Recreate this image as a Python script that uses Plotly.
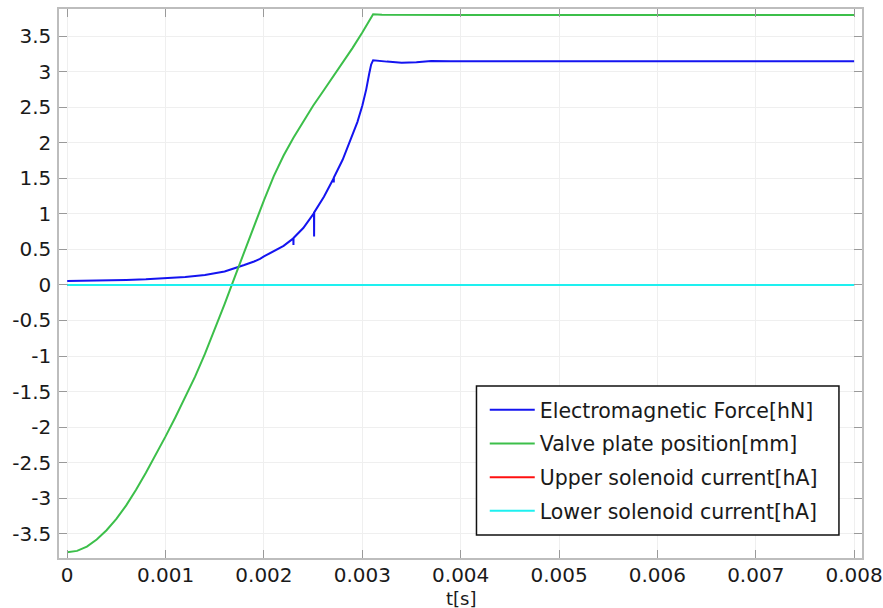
import plotly.graph_objects as go

# time in milliseconds (converted to seconds below)
t_force_ms = [0, 0.2, 0.4, 0.6, 0.8, 1.0, 1.2, 1.4, 1.5, 1.6, 1.7, 1.76, 1.8, 1.9, 1.96, 2.0,
              2.1, 2.2, 2.299, 2.300, 2.301, 2.4, 2.509, 2.510, 2.511, 2.61, 2.709, 2.710,
              2.711, 2.80, 2.85, 2.90, 2.95, 3.00, 3.04, 3.07, 3.09, 3.11, 3.14, 3.25, 3.4,
              3.55, 3.7, 3.9, 4.5, 5.0, 6.0, 7.0, 8.0]
force = [0.055, 0.058, 0.063, 0.070, 0.080, 0.094, 0.113, 0.14, 0.16, 0.19, 0.235, 0.26, 0.28,
         0.33, 0.365, 0.40, 0.47, 0.55, 0.655, 0.56, 0.66, 0.80, 1.01, 0.68, 1.02, 1.24, 1.50,
         1.44, 1.51, 1.76, 1.93, 2.10, 2.29, 2.52, 2.75, 2.97, 3.10, 3.16, 3.155, 3.14, 3.125,
         3.13, 3.15, 3.145, 3.145, 3.145, 3.145, 3.145, 3.145]

t_pos_ms = [0, 0.1, 0.2, 0.3, 0.4, 0.5, 0.6, 0.7, 0.8, 0.9, 1.0, 1.1, 1.2, 1.3, 1.4, 1.5, 1.6,
            1.7, 1.8, 1.9, 2.0, 2.1, 2.2, 2.3, 2.4, 2.5, 2.6, 2.7, 2.8, 2.9, 3.0, 3.05, 3.11,
            3.2, 3.5, 4.0, 5.0, 6.0, 7.0, 8.0]
position = [-3.76, -3.74, -3.68, -3.58, -3.45, -3.29, -3.10, -2.88, -2.64, -2.39, -2.13, -1.86,
            -1.58, -1.29, -0.97, -0.63, -0.27, 0.10, 0.47, 0.84, 1.19, 1.53, 1.82, 2.07, 2.30,
            2.52, 2.72, 2.92, 3.12, 3.33, 3.55, 3.67, 3.805, 3.80, 3.795, 3.795, 3.795, 3.795,
            3.795, 3.795]

t_cur_ms = [0, 8.0]
upper_current = [0, 0]
lower_current = [0, 0]

x_tick_vals = [0, 0.001, 0.002, 0.003, 0.004, 0.005, 0.006, 0.007, 0.008]
x_tick_text = ["0", "0.001", "0.002", "0.003", "0.004", "0.005", "0.006", "0.007", "0.008"]
y_tick_vals = [-3.5, -3, -2.5, -2, -1.5, -1, -0.5, 0, 0.5, 1, 1.5, 2, 2.5, 3, 3.5]
y_tick_text = ["-3.5", "-3", "-2.5", "-2", "-1.5", "-1", "-0.5", "0", "0.5", "1", "1.5", "2",
               "2.5", "3", "3.5"]
x_title = "t[s]"

to_s = lambda arr: [v / 1000.0 for v in arr]

fig = go.Figure()
fig.add_trace(go.Scatter(x=to_s(t_force_ms), y=force, mode="lines",
                         name="Electromagnetic Force[hN]", legendgroup="a",
                         line=dict(color="#1414f0", width=2)))
fig.add_trace(go.Scatter(x=to_s(t_pos_ms), y=position, mode="lines",
                         name="Valve plate position[mm]", legendgroup="b",
                         line=dict(color="#3cbf4a", width=2)))
fig.add_trace(go.Scatter(x=to_s(t_cur_ms), y=upper_current, mode="lines",
                         name="Upper solenoid current[hA]", legendgroup="c",
                         line=dict(color="#ff1010", width=2)))
fig.add_trace(go.Scatter(x=to_s(t_cur_ms), y=lower_current, mode="lines",
                         name="Lower solenoid current[hA]", legendgroup="d",
                         line=dict(color="#1ef0f0", width=2)))

axis_common = dict(
    showline=True, mirror="ticks", linecolor="#bdbdbd", linewidth=1.5,
    ticks="inside", ticklen=8, tickcolor="#9a9a9a", tickwidth=1,
    showgrid=True, gridcolor="#efefef", gridwidth=1, zeroline=False,
    automargin=False,
    tickfont=dict(family="DejaVu Sans", size=20, color="#1a1a1a"),
)

fig.update_layout(
    width=883, height=608,
    margin=dict(l=59, r=21, t=9, b=50),
    paper_bgcolor="white", plot_bgcolor="white",
    font=dict(family="DejaVu Sans", size=20, color="#1a1a1a"),
    xaxis=dict(range=[-0.0000834, 0.00808], tickvals=x_tick_vals, ticktext=x_tick_text,
               ticklabelstandoff=-2, **axis_common),
    yaxis=dict(range=[-3.84, 3.88], tickvals=y_tick_vals, ticktext=y_tick_text,
               ticklabelstandoff=2, **axis_common),
    legend=dict(x=0.5302, y=0.3060, xanchor="left", yanchor="top",
                borderwidth=0, bgcolor="rgba(255,255,255,0)",
                font=dict(family="DejaVu Sans", size=20.5, color="#1a1a1a"),
                tracegroupgap=4, itemwidth=45, traceorder="grouped"),
    shapes=[dict(type="rect", xref="paper", yref="paper",
                 x0=0.5199, x1=0.9713, y0=0.0419, y1=0.3133,
                 line=dict(color="#111111", width=1.5), fillcolor="white", layer="above")],
    annotations=[dict(text=x_title, xref="paper", yref="paper", x=0.5, y=-0.0729,
                      xanchor="center", yanchor="middle", showarrow=False,
                      font=dict(family="DejaVu Sans", size=18, color="#1a1a1a"))],
    showlegend=True,
)

fig.write_html("out.html")
